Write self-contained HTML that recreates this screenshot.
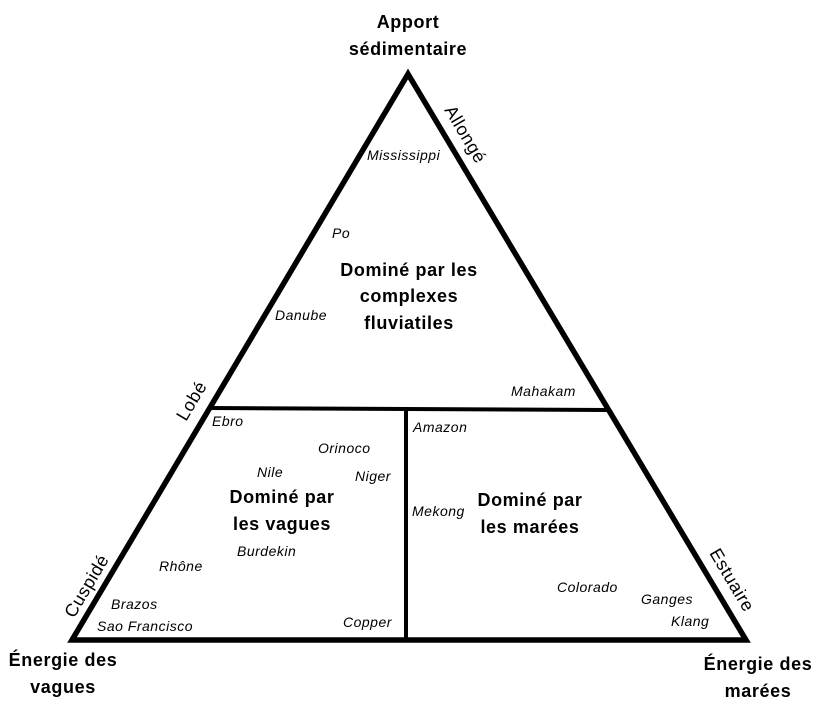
<!DOCTYPE html>
<html><head><meta charset="utf-8"><style>
html,body{margin:0;padding:0;background:#fff;}
svg{display:block;}
text{font-family:"Liberation Sans",Arial,sans-serif;fill:#000;}
.i{font-style:italic;font-size:14px;letter-spacing:0.5px;}
.b{font-weight:bold;font-size:18px;letter-spacing:0.6px;}
.s{font-size:18px;letter-spacing:0.5px;}
</style></head><body>
<svg width="826" height="715" viewBox="0 0 826 715" xmlns="http://www.w3.org/2000/svg">
<polygon points="408,74 72,640 746,640" fill="none" stroke="#000" stroke-width="5.5" stroke-linejoin="miter"/>
<line x1="209" y1="408" x2="609" y2="410" stroke="#000" stroke-width="4"/>
<line x1="406" y1="408" x2="406" y2="640" stroke="#000" stroke-width="4"/>

<text class="b" x="408" y="28" text-anchor="middle">Apport</text>
<text class="b" x="408" y="55" text-anchor="middle">sédimentaire</text>
<text class="b" x="63" y="666" text-anchor="middle">Énergie des</text>
<text class="b" x="63" y="693" text-anchor="middle">vagues</text>
<text class="b" x="758" y="670" text-anchor="middle">Énergie des</text>
<text class="b" x="758" y="697" text-anchor="middle">marées</text>

<text class="s" transform="translate(444,110) rotate(59.3)">Allongé</text>
<text class="s" transform="translate(709,553) rotate(59.3)">Estuaire</text>
<text class="s" transform="translate(186,422) rotate(-59.3)">Lobé</text>
<text class="s" transform="translate(74,619) rotate(-59.3)">Cuspidé</text>

<text class="b" x="409" y="276" text-anchor="middle">Dominé par les</text>
<text class="b" x="409" y="302" text-anchor="middle">complexes</text>
<text class="b" x="409" y="329" text-anchor="middle">fluviatiles</text>
<text class="b" x="282" y="503" text-anchor="middle">Dominé par</text>
<text class="b" x="282" y="530" text-anchor="middle">les vagues</text>
<text class="b" x="530" y="506" text-anchor="middle">Dominé par</text>
<text class="b" x="530" y="533" text-anchor="middle">les marées</text>

<text class="i" x="367" y="160">Mississippi</text>
<text class="i" x="332" y="238">Po</text>
<text class="i" x="275" y="320">Danube</text>
<text class="i" x="511" y="396">Mahakam</text>
<text class="i" x="212" y="426">Ebro</text>
<text class="i" x="318" y="453">Orinoco</text>
<text class="i" x="257" y="477">Nile</text>
<text class="i" x="355" y="481">Niger</text>
<text class="i" x="237" y="556">Burdekin</text>
<text class="i" x="159" y="571">Rhône</text>
<text class="i" x="111" y="609">Brazos</text>
<text class="i" x="97" y="631">Sao Francisco</text>
<text class="i" x="343" y="627">Copper</text>
<text class="i" x="413" y="432">Amazon</text>
<text class="i" x="412" y="516">Mekong</text>
<text class="i" x="557" y="592">Colorado</text>
<text class="i" x="641" y="604">Ganges</text>
<text class="i" x="671" y="626">Klang</text>
</svg>
</body></html>
